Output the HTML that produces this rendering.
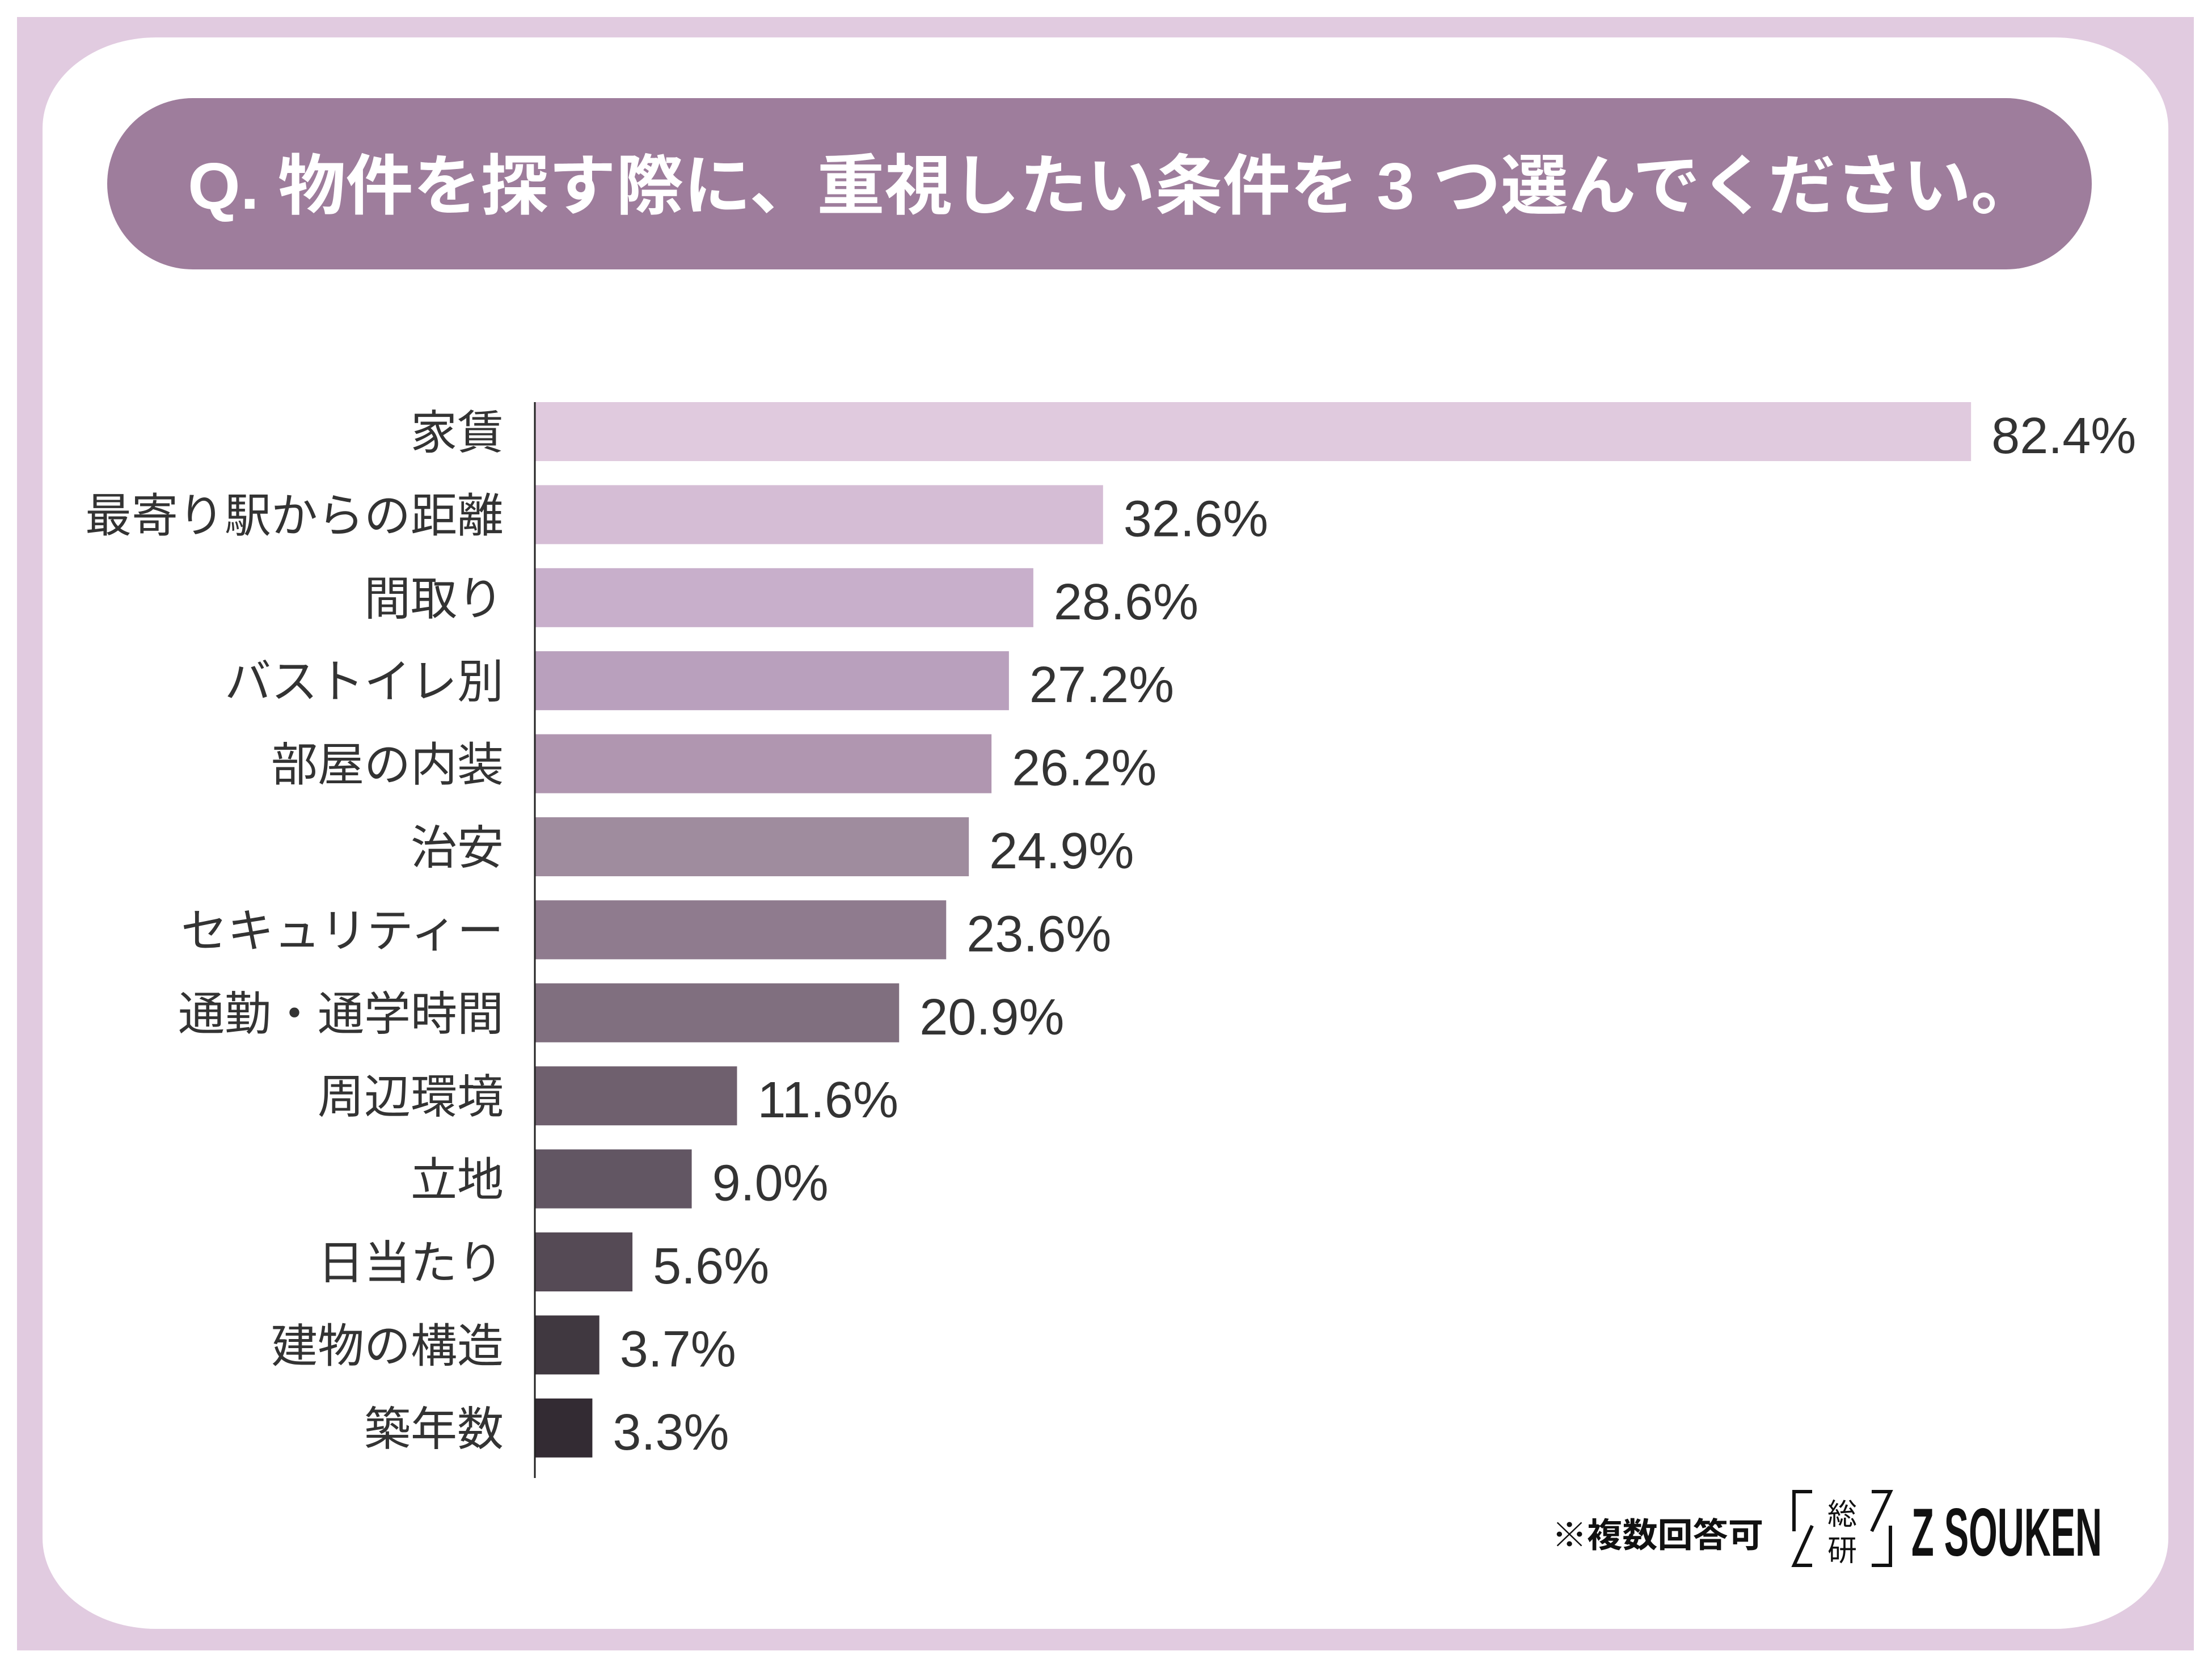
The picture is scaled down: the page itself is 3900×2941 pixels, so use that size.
<!DOCTYPE html>
<html><head><meta charset="utf-8">
<style>
html,body{margin:0;padding:0;background:#fff;}
svg{display:block;font-family:"Liberation Sans","Noto Sans CJK JP",sans-serif;}
</style></head>
<body>
<svg id="chart" width="3900" height="2941" viewBox="0 0 3900 2941" xmlns="http://www.w3.org/2000/svg">
<rect x="30" y="30" width="3838" height="2880" fill="#e1cbe0"/>
<rect x="75" y="66" width="3748" height="2806" rx="200" ry="160" fill="#fff"/>
<rect x="189" y="173" width="3499" height="302" rx="151" fill="#9e7d9c"/>
<text x="331" y="368" font-size="116" font-weight="bold" fill="#fff" textLength="3263" lengthAdjust="spacingAndGlyphs">Q. 物件を探す際に、重視したい条件を 3 つ選んでください。</text>
<g id="bars"></g>
<line x1="943" y1="709" x2="943" y2="2606" stroke="#222" stroke-width="3"/>
<text x="2736" y="2728" font-size="60" font-weight="bold" fill="#111" textLength="373" lengthAdjust="spacingAndGlyphs">※複数回答可</text>
<g fill="none" stroke="#111" stroke-width="6">
<polyline points="3195,2630 3163,2630 3163,2700"/>
<polyline points="3300,2630 3333,2630 3300,2700"/>
<polyline points="3195,2690 3163,2760 3195,2760"/>
<polyline points="3333,2690 3333,2760 3300,2760"/>
</g>
<text x="3222" y="2688" font-size="52" fill="#111">総</text>
<text x="3222" y="2752" font-size="52" fill="#111">研</text>
<text x="3370" y="2743" font-size="120" font-weight="bold" fill="#111" textLength="336" lengthAdjust="spacingAndGlyphs">Z SOUKEN</text>
</svg>
<script>
const categories = ["家賃","最寄り駅からの距離","間取り","バストイレ別","部屋の内装","治安","セキュリティー","通勤・通学時間","周辺環境","立地","日当たり","建物の構造","築年数"];
const values = [82.4,32.6,28.6,27.2,26.2,24.9,23.6,20.9,11.6,9.0,5.6,3.7,3.3];
const valueLabels = ["82.4%","32.6%","28.6%","27.2%","26.2%","24.9%","23.6%","20.9%","11.6%","9.0%","5.6%","3.7%","3.3%"];
const colors = ["#e0cade","#d5bdd5","#c8afcb","#b9a0bd","#b096b0","#9f8c9e","#8f7b8e","#806f7f","#6f606e","#625663","#554a55","#403840","#332b33"];
const NS="http://www.w3.org/2000/svg";
const x0=943, pxPer=30.73, top0=709, pitch=146.4, bh=104;
function xScale(v){return x0+v*pxPer;}
function yScale(i){return top0+i*pitch;}
const g=document.getElementById('bars');
categories.forEach((c,i)=>{
  const y=yScale(i);
  const r=document.createElementNS(NS,'rect');
  
  
  r.setAttribute('x',x0);r.setAttribute('y',y);
  r.setAttribute('width',xScale(values[i])-x0);r.setAttribute('height',bh);
  r.setAttribute('fill',colors[i]);
  g.appendChild(r);
  const t=document.createElementNS(NS,'text');
  
  
  t.setAttribute('x',888);t.setAttribute('y',y+bh/2+30);
  t.setAttribute('text-anchor','end');t.setAttribute('font-size','82');
  t.setAttribute('fill','#333');
  t.textContent=c;g.appendChild(t);
  const v=document.createElementNS(NS,'text');
  
  
  v.setAttribute('x',xScale(values[i])+36);v.setAttribute('y',y+bh/2+38);
  v.setAttribute('font-size','90');v.setAttribute('fill','#333');
  v.textContent=valueLabels[i];g.appendChild(v);
});
</script>
</body></html>
